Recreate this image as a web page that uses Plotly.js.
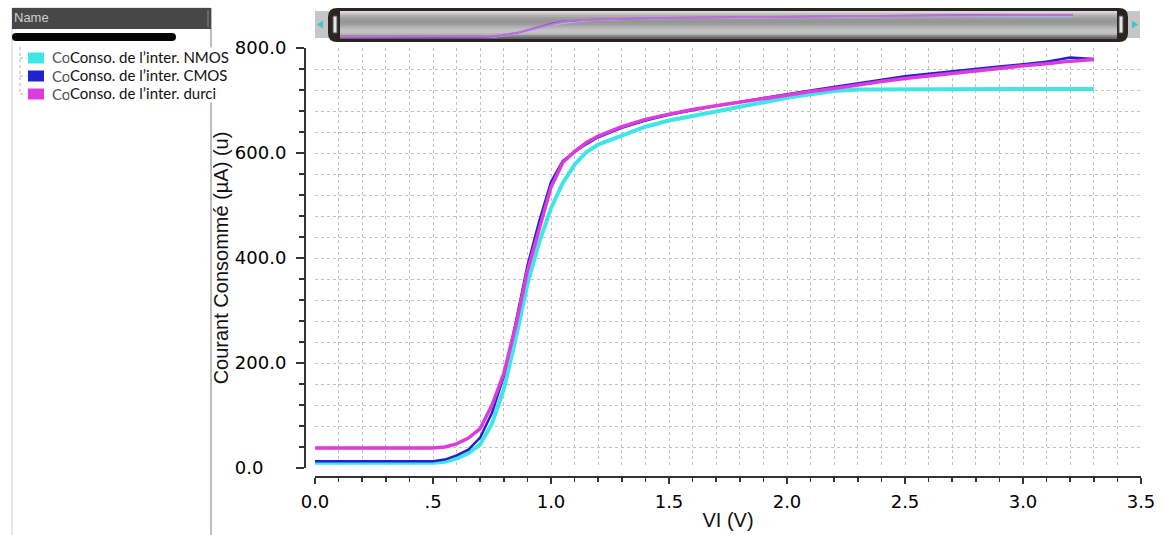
<!DOCTYPE html>
<html><head><meta charset="utf-8">
<script src="https://cdn.plot.ly/plotly-3.0.1.min.js"></script>
<style>html,body{margin:0;padding:0;background:#fff;}#chart{width:1163px;height:535px;}</style>
</head><body><div id="chart"></div>
<script>
// ---- data ----
const vi    = [0, 0.1, 0.2, 0.3, 0.4, 0.5, 0.55, 0.6, 0.65, 0.7, 0.75, 0.8, 0.85, 0.9, 0.95, 1.0, 1.05, 1.1, 1.15, 1.2, 1.3, 1.4, 1.5, 1.6, 1.7, 1.8, 1.9, 2.0, 2.1, 2.2, 2.3, 2.4, 2.5, 2.6, 2.7, 2.8, 2.9, 3.0, 3.1, 3.2, 3.3];
const nmos  = [10, 10, 10, 10, 10, 10, 12, 18, 28, 45, 85, 150, 245, 350, 430, 495, 543, 578, 602, 616, 633, 650, 662, 670, 679, 688, 697, 705, 712, 718, 721, 721, 721, 722, 722, 722, 722, 722, 722, 722, 722];
const cmos  = [13, 13, 13, 13, 13, 13, 16, 24, 35, 58, 105, 175, 275, 385, 470, 545, 585, 602, 617, 630, 648, 662, 673, 682, 690, 697, 705, 712, 719, 726, 733, 739, 746, 751, 756, 761, 765, 769, 774, 782, 779];
const durci = [38, 38, 38, 38, 38, 38, 40, 46, 57, 75, 120, 180, 270, 375, 455, 535, 582, 603, 620, 632, 650, 664, 674, 683, 690, 697, 704, 711, 717, 723, 730, 736, 742, 747, 752, 757, 761, 766, 770, 775, 778];
const seriesNames = ["Conso. de l\u2019inter. NMOS", "Conso. de l\u2019inter. CMOS", "Conso. de l\u2019inter. durci"];
const xTickVals = [0, 0.5, 1, 1.5, 2, 2.5, 3, 3.5];
const xTickText = ["0.0", ".5", "1.0", "1.5", "2.0", "2.5", "3.0", "3.5"];
const yTickVals = [0, 200, 400, 600, 800];
const yTickText = ["0.0", "200.0", "400.0", "600.0", "800.0"];
const xTitle = "VI (V)";
const yTitle = "Courant Consommé (µA) (u)";

// ---- styling helpers ----
const W = 1163, H = 535;
const px = x => x / W, py = y => 1 - y / H;
const colors = ["#3fe6e6", "#2222cc", "#dd3cdd"];
const widths = [4, 2.5, 3.5];
const seriesData = [nmos, cmos, durci];

// y tick labels are left-aligned in the reference: pad shorter labels with figure spaces
const maxLen = Math.max(...yTickText.map(t => t.length));
const yTickShown = yTickText.map(t => t + "\u2007".repeat(maxLen - t.length));

const traces = [];
seriesData.forEach((ys, i) => {
  traces.push({x: vi, y: ys, type: "scatter", mode: "lines", name: seriesNames[i],
    line: {color: colors[i], width: widths[i]}, xaxis: "x", yaxis: "y", showlegend: false, hoverinfo: "skip"});
});
const miniColors = ["#9fb8f0", "#5a2fd0", "#d070d8"];
seriesData.forEach((ys, i) => {
  traces.push({x: vi, y: ys, type: "scatter", mode: "lines", name: seriesNames[i] + " (aperçu)",
    line: {color: miniColors[i], width: i === 1 ? 1.6 : 2}, opacity: 0.9, xaxis: "x2", yaxis: "y2", showlegend: false, hoverinfo: "skip"});
});

function rect(x0, y0, x1, y1, fill, line, lw, layer) {
  return {type: "rect", xref: "paper", yref: "paper", x0: px(x0), x1: px(x1), y0: py(y1), y1: py(y0),
    fillcolor: fill, line: {color: line || fill, width: lw === undefined ? 0 : lw}, layer: layer || "below"};
}
function line(x0, y0, x1, y1, color, w, dash) {
  return {type: "line", xref: "paper", yref: "paper", x0: px(x0), x1: px(x1), y0: py(y0), y1: py(y1),
    line: {color: color, width: w, dash: dash || "solid"}, layer: "below"};
}
function P(x, y) { return px(x).toFixed(5) + "," + py(y).toFixed(5); }
function roundRect(x0, y0, x1, y1, r, fill, layer) {
  const d = "M" + P(x0 + r, y0) + " L" + P(x1 - r, y0) + " Q" + P(x1, y0) + " " + P(x1, y0 + r) +
    " L" + P(x1, y1 - r) + " Q" + P(x1, y1) + " " + P(x1 - r, y1) + " L" + P(x0 + r, y1) +
    " Q" + P(x0, y1) + " " + P(x0, y1 - r) + " L" + P(x0, y0 + r) + " Q" + P(x0, y0) + " " + P(x0 + r, y0) + " Z";
  return {type: "path", xref: "paper", yref: "paper", path: d, fillcolor: fill, line: {width: 0}, layer: layer || "below"};
}
function tri(pts, fill) {
  const d = "M" + P(pts[0][0], pts[0][1]) + " L" + P(pts[1][0], pts[1][1]) + " L" + P(pts[2][0], pts[2][1]) + " Z";
  return {type: "path", xref: "paper", yref: "paper", path: d, fillcolor: fill, line: {width: 0}, layer: "below"};
}

const shapes = [];
// left panel
shapes.push(rect(12, 8, 211, 536, "#ffffff", "#d0d0d0", 1));
shapes.push(line(211, 8, 211, 535, "#bdbdbd", 2));
shapes.push(rect(12, 8, 211, 29, "#474747"));
shapes.push(line(208, 10, 208, 27, "#8a8a8a", 1));
shapes.push(roundRect(12, 33, 176, 41, 4, "#050505"));
shapes.push(line(20, 47, 20, 95, "#b0b0b0", 1, "dot"));
[58, 76, 94].forEach((yc, i) => {
  shapes.push(line(20, yc, 27, yc, "#b0b0b0", 1, "dot"));
  shapes.push(rect(28, yc - 5.5, 44, yc + 5.5, colors[i]));
});
// overview slider
shapes.push(rect(315, 11, 329, 38, "#c6c6c6"));
shapes.push(rect(1126, 11, 1140, 38, "#c6c6c6"));
shapes.push(tri([[317, 24.5], [323, 20.5], [323, 28.5]], "#39c6d2"));
shapes.push(tri([[1138, 24.5], [1132, 20.5], [1132, 28.5]], "#39c6d2"));
shapes.push(roundRect(328, 8, 1128, 42, 9, "#2a2521"));
const stripe = ["#d8d8d8", "#c2c2c2", "#aeaeae", "#a0a0a0", "#989898", "#969696", "#9c9c9c",
                "#aaaaaa", "#b8b8b8", "#c2c2c2", "#c4c4c4", "#b6b6b6", "#888888", "#6e626e"];
stripe.forEach((c, i) => shapes.push(rect(340, 11 + i * 2, 1117, 13 + i * 2, c)));
shapes.push(rect(333, 16, 337, 33, "#e6e6e6", "#555555", 1));
shapes.push(rect(1119, 16, 1123, 33, "#e6e6e6", "#555555", 1));

const annotations = [];
annotations.push({text: "Name", xref: "paper", yref: "paper", x: px(12), y: py(18), xanchor: "left", yanchor: "middle",
  showarrow: false, font: {family: "Liberation Sans", size: 13, color: "#cfcfcf"}});
[56.5, 75, 93].forEach((yc, i) => {
  annotations.push({text: "Co", xref: "paper", yref: "paper", x: px(50), y: py(yc + 1), xanchor: "left", yanchor: "middle",
    showarrow: false, font: {family: "Lato", size: 15, color: "#555555"}});
  annotations.push({text: seriesNames[i], xref: "paper", yref: "paper", x: px(69), y: py(yc), xanchor: "left", yanchor: "middle",
    showarrow: false, bgcolor: "#ffffff", borderpad: 0, font: {family: "Lato", size: 15, color: "#111111"}});
});

const gridC = "#c2c2c2";
const axFont = {family: "DejaVu Sans", size: 18, color: "#000000"};
const titleFont = {family: "Liberation Sans", size: 20, color: "#111111"};
const layout = {
  width: W, height: H, autosize: false,
  margin: {l: 0, r: 0, t: 0, b: 0, pad: 0},
  paper_bgcolor: "#ffffff", plot_bgcolor: "#ffffff",
  showlegend: false,
  xaxis: {
    domain: [px(315), px(1141)], range: [0, 3.5], anchor: "free", position: py(477),
    tickmode: "array", tickvals: xTickVals, ticktext: xTickText, tickfont: axFont,
    ticks: "outside", ticklen: 6, tickwidth: 2, tickcolor: "#333333", ticklabelstandoff: 2,
    showline: true, linecolor: "#333333", linewidth: 2, zeroline: false,
    showgrid: true, gridcolor: gridC, griddash: "dot", gridwidth: 1,
    minor: {dtick: 0.1, tick0: 0, ticks: "outside", ticklen: 4, tickwidth: 1.5, tickcolor: "#333333",
            showgrid: true, gridcolor: gridC, griddash: "dot", gridwidth: 1},
    title: {text: xTitle, font: titleFont, standoff: 1},
    fixedrange: true
  },
  yaxis: {
    domain: [py(468), py(48)], range: [0, 800], anchor: "free", position: px(305),
    tickmode: "array", tickvals: yTickVals, ticktext: yTickShown, tickfont: axFont,
    ticks: "outside", ticklen: 8, tickwidth: 2, tickcolor: "#333333", ticklabelstandoff: 6,
    showline: true, linecolor: "#333333", linewidth: 2, zeroline: false,
    showgrid: true, gridcolor: gridC, griddash: "dot", gridwidth: 1,
    minor: {dtick: 40, tick0: 0, ticks: "outside", ticklen: 5, tickwidth: 1.5, tickcolor: "#333333",
            showgrid: true, gridcolor: gridC, griddash: "dot", gridwidth: 1},
    title: {text: yTitle, font: titleFont, standoff: 0},
    fixedrange: true
  },
  xaxis2: {domain: [px(340), px(1117)], range: [0, 3.5], anchor: "y2", visible: false, fixedrange: true},
  yaxis2: {domain: [py(38), py(14)], range: [0, 800], anchor: "x2", visible: false, fixedrange: true},
  shapes: shapes,
  annotations: annotations
};
Plotly.newPlot("chart", traces, layout, {staticPlot: true, displayModeBar: false});
</script>
</body></html>
